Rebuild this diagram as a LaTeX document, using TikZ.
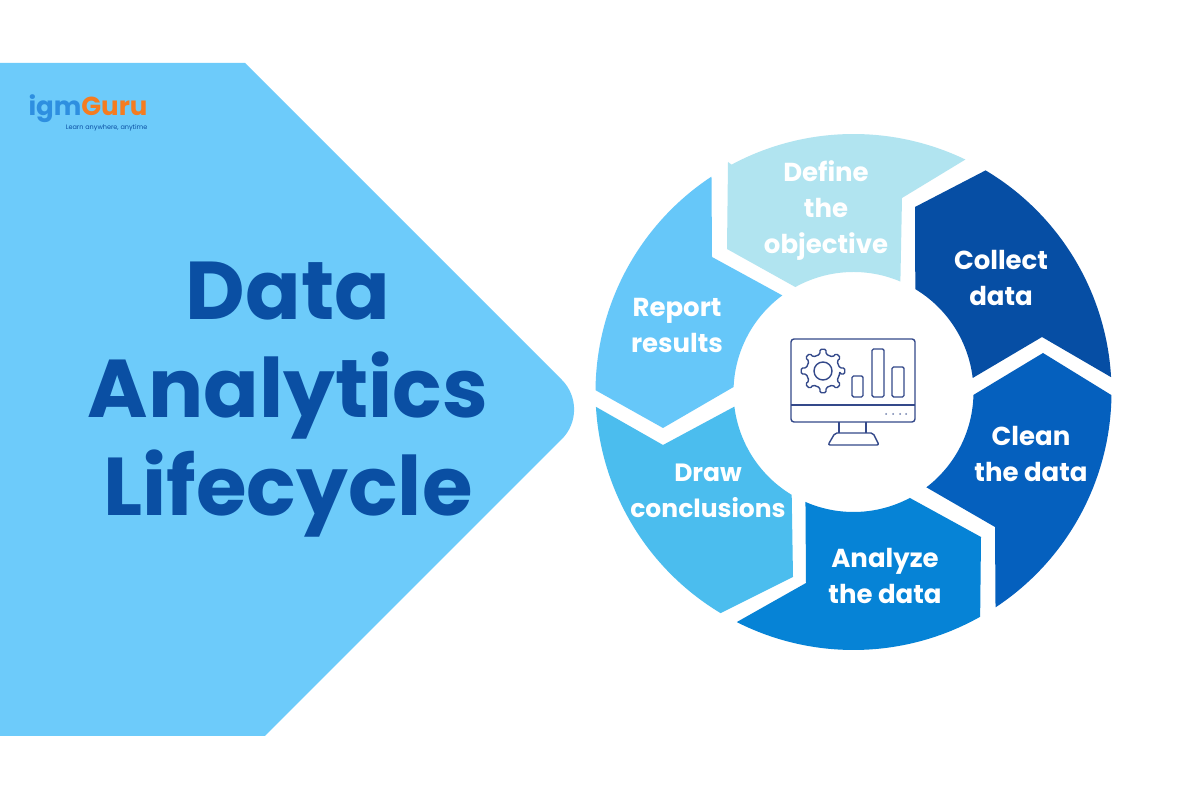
\documentclass[tikz,border=0pt]{standalone}
\usepackage{fontspec}
\setmainfont{Poppins}
\usepackage{xcolor}
\usepackage{tikz}
\usetikzlibrary{positioning}
\definecolor{panelblue}{HTML}{6DCBFA}
\definecolor{titleblue}{HTML}{0A4FA3}
\definecolor{definecol}{HTML}{B1E4F0}
\definecolor{collectcol}{HTML}{064EA4}
\definecolor{cleancol}{HTML}{0560BE}
\definecolor{analyzecol}{HTML}{0683D6}
\definecolor{drawcol}{HTML}{4BBDEE}
\definecolor{reportcol}{HTML}{66C7F9}
\definecolor{iconcol}{HTML}{34498A}
\definecolor{logoblue}{HTML}{2E8FE0}
\definecolor{logoorange}{HTML}{F57C20}
\tikzstyle{wheeltext} = [text=white, align=center, font=\fontsize{26}{36}\selectfont\bfseries]
\tikzstyle{icon} = [draw=iconcol, line width=1.4pt, line join=round]
\begin{document}
\begin{tikzpicture}[x=1pt,y=1pt]
    \useasboundingbox (0,0) rectangle (1200,800);
    \fill[white] (0,0) rectangle (1200,800);

    \fill[panelblue] (0,737) -- (245,737) [rounded corners=42pt] -- (591.5,390.5) [sharp corners] -- (265,64) -- (0,64) -- cycle;

    \node[text=titleblue, align=center, font=\fontsize{82}{98}\selectfont\bfseries] (title) at (288,400) {Data\\Analytics\\Lifecycle};

    \node[inner sep=0pt, font=\fontsize{26}{26}\selectfont\bfseries] (logo) at (88,691) {\textcolor{logoblue}{igm}\textcolor{logoorange}{Guru}};
    \node[inner sep=0pt, text=titleblue, font=\fontsize{6.5}{6.5}\selectfont, below=1pt of logo.south east, anchor=north east] (tagline) {Learn anywhere, anytime};

    \begin{scope}[shift={(853.5,408)}]
        \fill[definecol] (-125.5,230) -- (118.2:258) arc[start angle=118.2,end angle=64.3,radius=258] -- (48.5,194) -- (67:120) arc[start angle=67,end angle=119,radius=120] -- (-126.5,143) -- cycle;
        \fill[collectcol] (59.2:258) arc[start angle=59.2,end angle=3.3,radius=258] -- (188.5,55) -- (6.7:120) arc[start angle=6.7,end angle=59,radius=120] -- (61.5,185) -- cycle;
        \fill[cleancol] (-0.7:258) arc[start angle=-0.7,end angle=-56.6,radius=258] -- (141.5,-135) -- (-52.6:120) arc[start angle=-52.6,end angle=-1.4,radius=120] -- (189.5,39) -- cycle;
        \fill[analyzecol] (-60.6:258) arc[start angle=-60.6,end angle=-116.9,radius=258] -- (-47.5,-191) -- (-113.6:120) arc[start angle=-113.6,end angle=-62,radius=120] -- (127.5,-145) -- cycle;
        \fill[drawcol] (-121:258) arc[start angle=-121,end angle=-176.7,radius=258] -- (-190.5,-53) -- (-173:120) arc[start angle=-173,end angle=-121,radius=120] -- (-60.5,-185) -- cycle;
        \fill[reportcol] (179.6:258) arc[start angle=179.6,end angle=123.4,radius=258] -- (-141.5,135) -- (126.4:120) arc[start angle=126.4,end angle=177.6,radius=120] -- (-190.5,-36) -- cycle;
    \end{scope}

    \node[wheeltext] (define) at (826,589) {Define\\the\\objective};
    \node[wheeltext] (collect) at (1001,522) {Collect\\data};
    \node[wheeltext] (clean) at (1031,346) {Clean\\the data};
    \node[wheeltext] (analyze) at (885,224) {Analyze\\the data};
    \node[wheeltext, font=\fontsize{25}{36}\selectfont\bfseries] (conclude) at (708,309) {Draw\\conclusions};
    \node[wheeltext] (report) at (677,475) {Report\\results};

    \draw[icon, rounded corners=3pt] (791,461) rectangle (915,378);
    \draw[icon] (791,395) -- (915,395);
    \draw[icon] (839,378) -- (839,367) (866,378) -- (866,367);
    \draw[icon, rounded corners=2pt] (835,367) -- (873,367) -- (879,355) -- (828,355) -- cycle;
    \draw[icon, rounded corners=1.5pt] (852,403) rectangle (863,424);
    \draw[icon, rounded corners=1.5pt] (872,403) rectangle (884,451);
    \draw[icon, rounded corners=1.5pt] (892,403) rectangle (904,433);
    \draw[icon, rounded corners=1.5pt, shift={(823,429)}] (-10:17) \foreach \a in {0,45,...,315} { -- (\a-10:17) -- (\a-8:22) -- (\a+8:22) -- (\a+10:17) } -- cycle;
    \draw[icon] (823,429) circle (9);
    \foreach \x in {886,893,900,906} \fill[iconcol!70] (\x,386) circle (1);
\end{tikzpicture}
\end{document}
